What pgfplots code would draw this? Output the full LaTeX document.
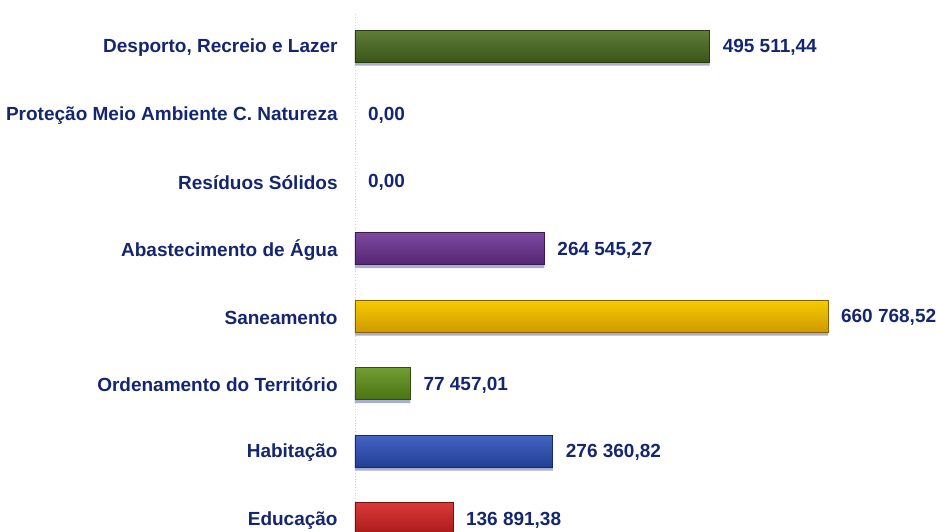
\documentclass[border=0pt]{standalone}
\usepackage{fontspec}
\setmainfont{Liberation Sans}
\usepackage{pgfplots}
\pgfplotsset{compat=1.18}

\definecolor{navy}{HTML}{152670}
\definecolor{shadowc}{HTML}{A9AED0}
\definecolor{cDesp}{HTML}{4A6B1E}
\definecolor{cAbast}{HTML}{6A3092}
\definecolor{cSane}{HTML}{F4B400}
\definecolor{cOrd}{HTML}{5E9018}
\definecolor{cHab}{HTML}{2A4FBA}
\definecolor{cEdu}{HTML}{D41F1F}

\begin{document}
\begin{tikzpicture}
\begin{axis}[
    name=ax,
    xbar,
    bar shift=0pt,
    bar width=16pt,
    scale only axis,
    width=236.5pt, height=270pt,
    xmin=0, xmax=660768.52,
    ymin=-0.5, ymax=7.5,
    ytick={0,...,7},
    yticklabels={Educação, Habitação, Ordenamento do Território, Saneamento,
                 Abastecimento de Água, Resíduos Sólidos,
                 Proteção Meio Ambiente C. Natureza, {Desporto, Recreio e Lazer}},
    yticklabel style={font=\fontsize{9.5}{11}\selectfont\bfseries, text=navy, inner sep=0pt, xshift=-8.5pt, yshift=-0.8pt},
    major tick length=0pt,
    axis x line=none,
    axis y line*=left,
    y axis line style={densely dotted, gray!35, -},
    clip=false,
    nodes near coords,
    point meta=explicit symbolic,
    nodes near coords style={font=\fontsize{9.5}{11}\selectfont\bfseries, text=navy, anchor=west, xshift=3pt, yshift=-0.8pt},
]
% shadows
\addplot[draw=none, fill=shadowc, bar shift=-1.8pt, nodes near coords={}] coordinates {
  (495511.44,7) (264545.27,4) (660768.52,3) (77457.01,2) (276360.82,1) (136891.38,0)};
% bars
\addplot[draw=cDesp!55!black, top color=cDesp!88!white, middle color=cDesp, bottom color=cDesp!80!black]
  coordinates {(495511.44,7) [495 511,44]};
\addplot[draw=none, fill=none] coordinates {(0,6) [0,00]};
\addplot[draw=none, fill=none] coordinates {(0,5) [0,00]};
\addplot[draw=cAbast!55!black, top color=cAbast!88!white, middle color=cAbast, bottom color=cAbast!80!black]
  coordinates {(264545.27,4) [264 545,27]};
\addplot[draw=cSane!55!black, top color=cSane!70!yellow, middle color=cSane, bottom color=cSane!85!black]
  coordinates {(660768.52,3) [660 768,52]};
\addplot[draw=cOrd!55!black, top color=cOrd!88!white, middle color=cOrd, bottom color=cOrd!80!black]
  coordinates {(77457.01,2) [77 457,01]};
\addplot[draw=cHab!55!black, top color=cHab!88!white, middle color=cHab, bottom color=cHab!80!black]
  coordinates {(276360.82,1) [276 360,82]};
\addplot[draw=cEdu!55!black, top color=cEdu!88!white, middle color=cEdu, bottom color=cEdu!80!black]
  coordinates {(136891.38,0) [136 891,38]};
\end{axis}
\pgfresetboundingbox
\path ([xshift=-177.5pt, yshift=10.625pt]ax.south west) rectangle ([xshift=290.5pt, yshift=276.125pt]ax.south west);
\end{tikzpicture}
\end{document}
